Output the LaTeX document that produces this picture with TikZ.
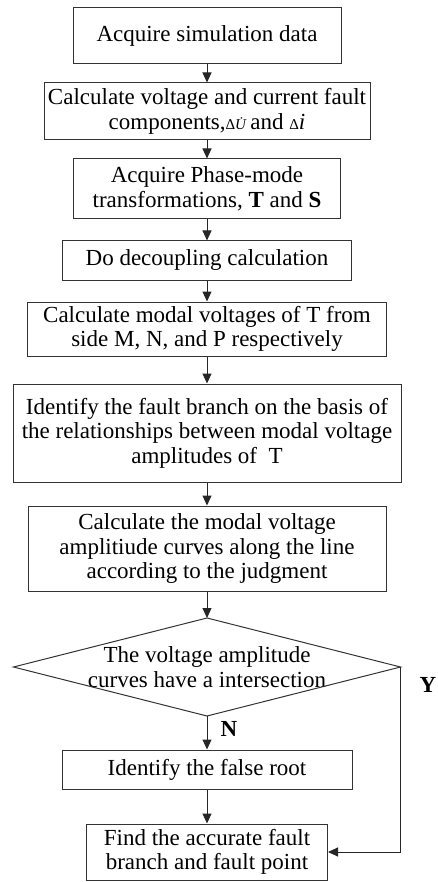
\documentclass[tikz,border=0pt]{standalone}
\usepackage{fontspec}
\setmainfont{Liberation Serif}
\usetikzlibrary{arrows.meta,positioning}

\begin{document}
\begin{tikzpicture}[x=1pt,y=-1pt,
  node distance=20pt,
  stepbox/.style={draw=black!80,line width=1pt,align=center,inner sep=2pt,
    font=\fontsize{23}{24.5}\selectfont},
  ln/.style={draw=black!80,line width=1pt},
  ar/.style={-{Triangle[length=10pt,width=9pt]},draw=black!85,line width=1pt},
  lbl/.style={font=\fontsize{23}{24}\selectfont\bfseries}
]
\useasboundingbox (0,0) rectangle (438,882);

\node[stepbox,minimum width=268pt,minimum height=56pt] (acq) at (207,36) {Acquire simulation data};
\node[stepbox,minimum width=326pt,minimum height=57pt,below=18pt of acq] (comp)
  {Calculate voltage and current fault\\
   components,{\fontsize{15}{15}\selectfont Δ\textit{\.U}}and {\fontsize{15}{15}\selectfont Δ}\textit{i}};
\node[stepbox,minimum width=267pt,minimum height=60pt,below=18pt of comp] (pmt)
  {Acquire Phase-mode\\ transformations, \textbf{T} and \textbf{S}};
\node[stepbox,minimum width=289pt,minimum height=39pt,below=21pt of pmt] (dcp) {Do decoupling calculation};
\node[stepbox,minimum width=359pt,minimum height=54pt,below=21pt of dcp] (mvt)
  {Calculate modal voltages of T from\\ side M, N, and P respectively};
\node[stepbox,minimum width=388pt,minimum height=98pt,below=27pt of mvt] (fbr)
  {Identify the fault branch on the basis of\\ the relationships between modal voltage\\ amplitudes of~ T};
\node[stepbox,minimum width=358pt,minimum height=85pt,below=23pt of fbr] (crv)
  {Calculate the modal voltage\\ amplitiude curves along the line\\ according to the judgment};

% decision
\node[align=center,font=\fontsize{23}{24.5}\selectfont] (isx) at (207,667)
  {The voltage amplitude\\ curves have a intersection};
\path (isx.center) +(0,-49) coordinate (isxT) +(193.5,0) coordinate (isxE)
  +(0,49) coordinate (isxB) +(-193.5,0) coordinate (isxW);
\draw[ln] (isxT) -- (isxE) -- (isxB) -- (isxW) -- cycle;

\node[stepbox,minimum width=290pt,minimum height=39pt] (froot) at (207,769.5) {Identify the false root};
\node[stepbox,minimum width=241pt,minimum height=56pt,below=34pt of froot] (fpt)
  {Find the accurate fault\\ branch and fault point};

\foreach \a/\b in {acq/comp,comp/pmt,pmt/dcp,dcp/mvt,mvt/fbr,fbr/crv}
  \draw[ar] (\a) -- (\b);
\draw[ar] (crv) -- (isxT);
\draw[ar] (isxB) -- (froot);
\draw[ar] (froot) -- (fpt);
\draw[ar] (isxE) |- (fpt.east);

\node[lbl] (nlab) at (229,729) {N};
\node[lbl] (ylab) at (428,685) {Y};
\end{tikzpicture}
\end{document}
